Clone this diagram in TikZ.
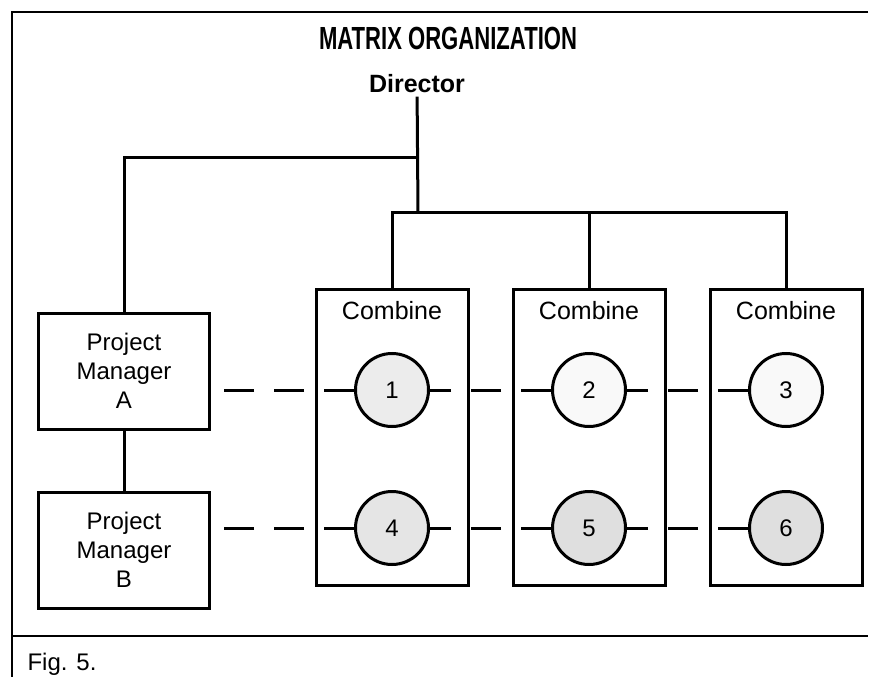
\documentclass[tikz,border=0pt]{standalone}
\usepackage{fontspec}
\setmainfont{Liberation Sans}
\usepackage{graphicx}
\usetikzlibrary{positioning}

\begin{document}
\begin{tikzpicture}[x=1pt,y=-1pt,font=\fontsize{24}{29}\selectfont,
  mgr/.style={draw,line width=3pt,minimum width=171pt,minimum height=116pt,align=center,inner sep=0pt},
  cmb/.style={draw,line width=3pt,minimum width=152pt,minimum height=296pt,inner sep=0pt},
  proj/.style={draw,circle,line width=3pt,minimum size=73pt,inner sep=0pt},
  ln/.style={line width=3pt},
  dsh/.style={line width=3pt,dash pattern=on 30pt off 20pt}]
\fill[white] (0,0) rectangle (871,677);
\useasboundingbox (0,0) rectangle (871,677);
% frame
\draw[line width=2pt] (868,12) -- (12,12) -- (12,677);
\draw[line width=2pt] (12,636) -- (868,636);
\node[font=\bfseries\fontsize{32}{36}\selectfont] (title) at (448,38)
  {\scalebox{0.69}[1]{MATRIX ORGANIZATION}};
\node[font=\bfseries\fontsize{25}{30}\selectfont] (dir) at (417,84) {Director};
\coordinate (lft) at (418,157);
\coordinate (bus) at (418,212);
\coordinate (rowA) at (0,390);
\coordinate (rowB) at (0,528);
% project managers
\node[mgr] (pmA) at (124,371) {Project\\Manager\\A};
\node[mgr,below=60pt of pmA] (pmB) {Project\\Manager\\B};
% combines
\node[cmb] (cb1) at (392,437) {};
\node[cmb,right=42pt of cb1] (cb2) {};
\node[cmb,right=42pt of cb2] (cb3) {};
\foreach \i in {1,2,3}
  \node[font=\fontsize{25}{30}\selectfont,below=10pt of cb\i.north] (lb\i) {Combine};
% projects
\node[proj,fill=gray!15] (c1) at (cb1 |- rowA) {1};
\node[proj,fill=gray!5] (c2) at (cb2 |- rowA) {2};
\node[proj,fill=gray!5] (c3) at (cb3 |- rowA) {3};
\node[proj,fill=gray!20] (c4) at (cb1 |- rowB) {4};
\node[proj,fill=gray!25] (c5) at (cb2 |- rowB) {5};
\node[proj,fill=gray!25] (c6) at (cb3 |- rowB) {6};
% lines
\draw[ln] (dir) -- (bus);
\draw[ln] (lft) -| (pmA);
\draw[ln] (cb1) |- (bus) -| (cb3);
\draw[ln] (cb2) -- (cb2 |- bus);
\draw[ln] (pmA) -- (pmB);
\foreach \a/\b in {c1/pmA,c4/pmB}
  \draw[dsh] (\a) -- (\a -| \b.east);
\foreach \a/\b in {c2/c1,c3/c2,c5/c4,c6/c5}
  \draw[dsh] (\a) -- (\b);
\node[anchor=base west] (fig) at (24,670) {Fig. 5.};
\end{tikzpicture}
\end{document}
